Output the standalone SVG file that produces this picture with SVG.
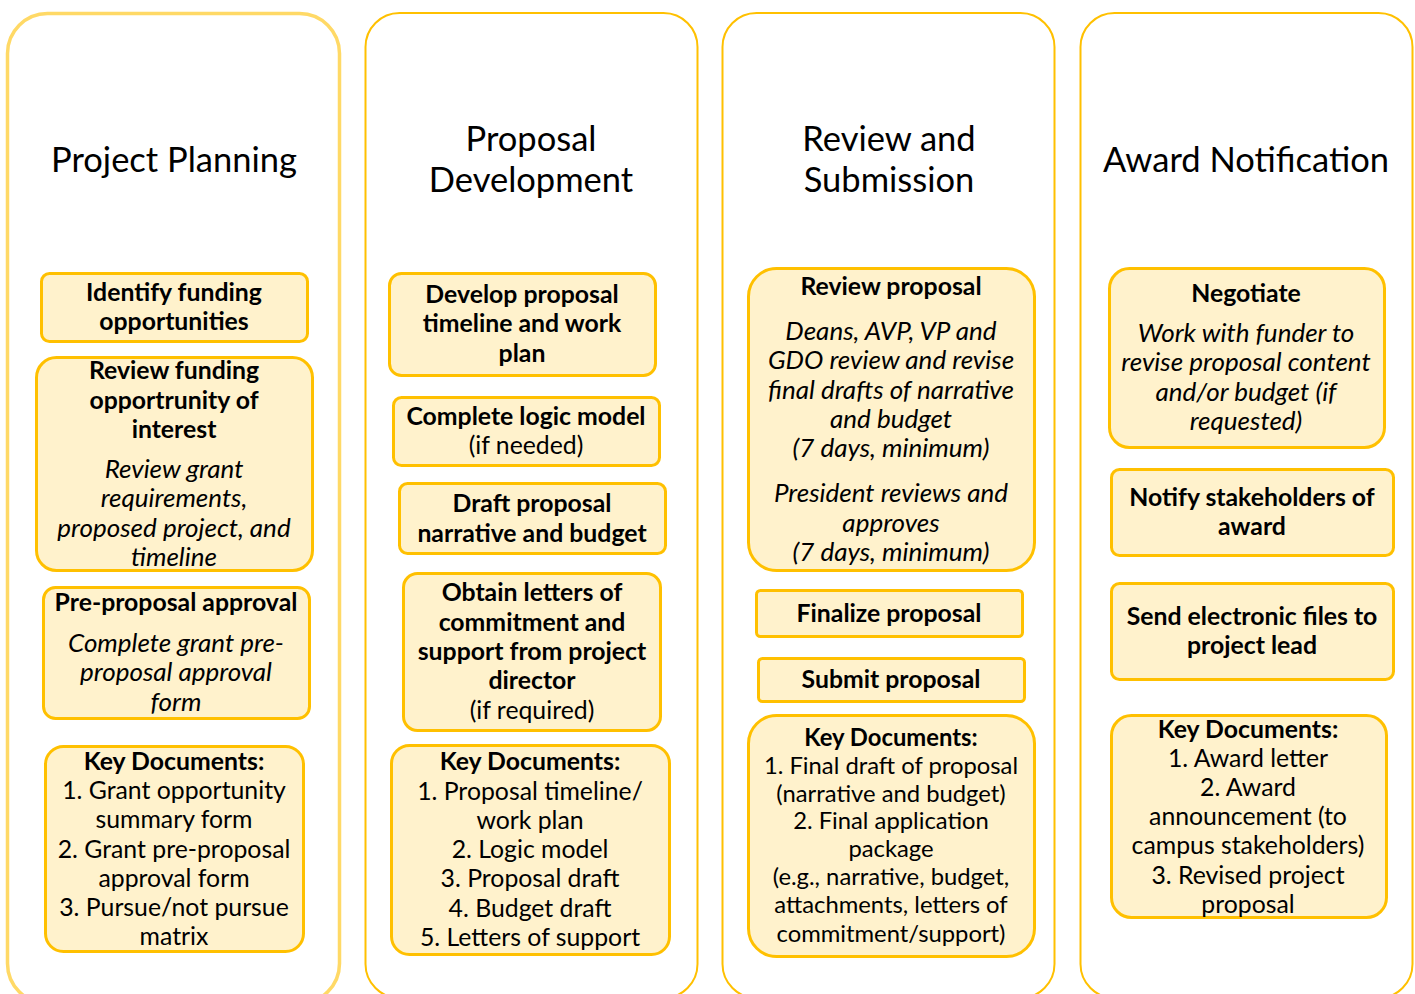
<svg xmlns="http://www.w3.org/2000/svg" width="1415" height="994" viewBox="0 0 1415 994">
  <style>
    .col { fill: #ffffff; stroke: #ffc000; stroke-width: 2; }
    .col.first { stroke: #ffd966; stroke-width: 3.5; }
    .box { fill: #fff2cc; stroke: #ffc000; stroke-width: 3; }
    text { font-family: Lato, "Liberation Sans", sans-serif; fill: #000; text-anchor: middle; }
    .h { font-size: 34.5px; }
    .b { font-size: 24.8px; font-weight: bold; }
    .r { font-size: 24.8px; }
    .i { font-size: 26px; font-style: italic; }
    .s { font-size: 23.8px; }
    .sb { font-size: 23.8px; font-weight: bold; }
  </style>

  <!-- Phase columns -->
  <g id="columns">
    <rect class="col first" x="7.5" y="13.5" width="332" height="990" rx="40"/>
    <rect class="col" x="365.5" y="13" width="332" height="985" rx="34"/>
    <rect class="col" x="722.5" y="13" width="332" height="985" rx="34"/>
    <rect class="col" x="1080.5" y="13" width="332" height="985" rx="34"/>
  </g>

  <!-- Column titles -->
  <g id="titles">
    <text class="h" x="174" y="172">Project Planning</text>
    <text class="h" x="531" y="151">Proposal</text>
    <text class="h" x="531" y="192">Development</text>
    <text class="h" x="889" y="151">Review and</text>
    <text class="h" x="889" y="192">Submission</text>
    <text class="h" x="1246" y="172">Award Notification</text>
  </g>

  <!-- Project Planning -->
  <g id="identify">
    <rect class="box" x="41.5" y="273.5" width="266" height="68" rx="8"/>
    <text class="b" x="174" y="301">Identify funding</text>
    <text class="b" x="174" y="330">opportunities</text>
  </g>
  <g id="review-funding">
    <rect class="box" x="36.5" y="357.5" width="276" height="213" rx="20"/>
    <text class="b" x="174" y="379">Review funding</text>
    <text class="b" x="174" y="409">opportrunity of</text>
    <text class="b" x="174" y="438">interest</text>
    <text class="i" x="174" y="478">Review grant</text>
    <text class="i" x="174" y="507">requirements,</text>
    <text class="i" x="174" y="537">proposed project, and</text>
    <text class="i" x="174" y="566">timeline</text>
  </g>
  <g id="pre-proposal">
    <rect class="box" x="43.5" y="587.5" width="266" height="131" rx="12"/>
    <text class="b" x="176" y="611">Pre-proposal approval</text>
    <text class="i" x="176" y="652">Complete grant pre-</text>
    <text class="i" x="176" y="681">proposal approval</text>
    <text class="i" x="176" y="711">form</text>
  </g>
  <g id="docs-planning">
    <rect class="box" x="45.5" y="746.5" width="258" height="205" rx="18"/>
    <text class="b" x="174" y="770">Key Documents:</text>
    <text class="r" x="174" y="799">1. Grant opportunity</text>
    <text class="r" x="174" y="828">summary form</text>
    <text class="r" x="174" y="858">2. Grant pre-proposal</text>
    <text class="r" x="174" y="887">approval form</text>
    <text class="r" x="174" y="916">3. Pursue/not pursue</text>
    <text class="r" x="174" y="945">matrix</text>
  </g>

  <!-- Proposal Development -->
  <g id="develop-timeline">
    <rect class="box" x="389.5" y="273.5" width="266" height="102" rx="12"/>
    <text class="b" x="522" y="303">Develop proposal</text>
    <text class="b" x="522" y="332">timeline and work</text>
    <text class="b" x="522" y="362">plan</text>
  </g>
  <g id="logic-model">
    <rect class="box" x="393.5" y="397.5" width="266" height="68" rx="8"/>
    <text class="b" x="526" y="425">Complete logic model</text>
    <text class="r" x="526" y="454">(if needed)</text>
  </g>
  <g id="draft-narrative">
    <rect class="box" x="399.5" y="483.5" width="266" height="70" rx="8"/>
    <text class="b" x="532" y="512">Draft proposal</text>
    <text class="b" x="532" y="542">narrative and budget</text>
  </g>
  <g id="letters">
    <rect class="box" x="403.5" y="573.5" width="257" height="157" rx="14"/>
    <text class="b" x="532" y="601">Obtain letters of</text>
    <text class="b" x="532" y="631">commitment and</text>
    <text class="b" x="532" y="660">support from project</text>
    <text class="b" x="532" y="689">director</text>
    <text class="r" x="532" y="719">(if required)</text>
  </g>
  <g id="docs-development">
    <rect class="box" x="391.5" y="745.5" width="278" height="209" rx="18"/>
    <text class="b" x="530" y="770">Key Documents:</text>
    <text class="r" x="530" y="800">1. Proposal timeline/</text>
    <text class="r" x="530" y="829">work plan</text>
    <text class="r" x="530" y="858">2. Logic model</text>
    <text class="r" x="530" y="887">3. Proposal draft</text>
    <text class="r" x="530" y="917">4. Budget draft</text>
    <text class="r" x="530" y="946">5. Letters of support</text>
  </g>

  <!-- Review and Submission -->
  <g id="review-proposal">
    <rect class="box" x="748.5" y="268.5" width="286" height="302" rx="28"/>
    <text class="b" x="891" y="295">Review proposal</text>
    <text class="i" x="891" y="340">Deans, AVP, VP and</text>
    <text class="i" x="891" y="369">GDO review and revise</text>
    <text class="i" x="891" y="399">final drafts of narrative</text>
    <text class="i" x="891" y="428">and budget</text>
    <text class="i" x="891" y="457">(7 days, minimum)</text>
    <text class="i" x="891" y="502">President reviews and</text>
    <text class="i" x="891" y="532">approves</text>
    <text class="i" x="891" y="561">(7 days, minimum)</text>
  </g>
  <g id="finalize">
    <rect class="box" x="756.5" y="590.5" width="266" height="46" rx="4"/>
    <text class="b" x="889" y="622">Finalize proposal</text>
  </g>
  <g id="submit">
    <rect class="box" x="758.5" y="658.5" width="266" height="43" rx="4"/>
    <text class="b" x="891" y="688">Submit proposal</text>
  </g>
  <g id="docs-submission">
    <rect class="box" x="748.5" y="715.5" width="286" height="241" rx="28"/>
    <text class="sb" x="891" y="746">Key Documents:</text>
    <text class="s" x="891" y="774">1. Final draft of proposal</text>
    <text class="s" x="891" y="802">(narrative and budget)</text>
    <text class="s" x="891" y="829">2. Final application</text>
    <text class="s" x="891" y="857">package</text>
    <text class="s" x="891" y="885">(e.g., narrative, budget,</text>
    <text class="s" x="891" y="913">attachments, letters of</text>
    <text class="s" x="891" y="942">commitment/support)</text>
  </g>

  <!-- Award Notification -->
  <g id="negotiate">
    <rect class="box" x="1109.5" y="268.5" width="275" height="179" rx="20"/>
    <text class="b" x="1246" y="302">Negotiate</text>
    <text class="i" x="1246" y="342">Work with funder to</text>
    <text class="i" x="1246" y="371">revise proposal content</text>
    <text class="i" x="1246" y="401">and/or budget (if</text>
    <text class="i" x="1246" y="430">requested)</text>
  </g>
  <g id="notify">
    <rect class="box" x="1111.5" y="469.5" width="282" height="86" rx="8"/>
    <text class="b" x="1252" y="506">Notify stakeholders of</text>
    <text class="b" x="1252" y="535">award</text>
  </g>
  <g id="send-files">
    <rect class="box" x="1111.5" y="583.5" width="282" height="96" rx="8"/>
    <text class="b" x="1252" y="625">Send electronic files to</text>
    <text class="b" x="1252" y="654">project lead</text>
  </g>
  <g id="docs-award">
    <rect class="box" x="1111.5" y="715.5" width="275" height="202" rx="20"/>
    <text class="b" x="1248" y="738">Key Documents:</text>
    <text class="r" x="1248" y="767">1. Award letter</text>
    <text class="r" x="1248" y="796">2. Award</text>
    <text class="r" x="1248" y="825">announcement (to</text>
    <text class="r" x="1248" y="854">campus stakeholders)</text>
    <text class="r" x="1248" y="884">3. Revised project</text>
    <text class="r" x="1248" y="913">proposal</text>
  </g>

  <!-- No connectors are drawn between the phases -->
  <g id="connectors"/>
</svg>
